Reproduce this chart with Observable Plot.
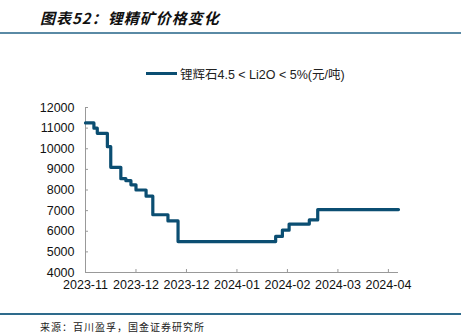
<!DOCTYPE html>
<html>
<head>
<meta charset="utf-8">
<script src="https://cdn.jsdelivr.net/npm/d3@7"></script>
<script src="https://cdn.jsdelivr.net/npm/@observablehq/plot@0.6"></script>
<style>
  html, body { margin: 0; padding: 0; background: #fff; }
  #wrap { position: relative; width: 468px; height: 334px; overflow: hidden; font-family: "Liberation Sans", Arial, sans-serif; }
  #title { position: absolute; left: 40px; top: 7px; font-family: "Noto Sans CJK SC", sans-serif; font-weight: bold; font-style: italic; font-size: 15px; color: #111; letter-spacing: 1px; }
  #rule1 { position: absolute; left: 0; top: 32px; width: 461px; height: 2px; background: #5a8aa5; }
  #legend { position: absolute; left: 146px; top: 64px; display: flex; align-items: center; font-size: 12.5px; color: #222; font-family: "Liberation Sans", "Noto Sans CJK SC", sans-serif; }
  #legend .sw { width: 31px; height: 3px; background: #0b4e72; margin-right: 3px; }
  #chart { position: absolute; left: 0; top: 90px; }
  #rule2 { position: absolute; left: 0; top: 313px; width: 461px; height: 2px; background: #2e6b8c; }
  #source { position: absolute; left: 40px; top: 319px; font-family: "Noto Sans CJK SC", sans-serif; font-size: 10px; color: #222; letter-spacing: 1px; }
</style>
</head>
<body>
<div id="wrap">
  <div id="title">图表52：锂精矿价格变化</div>
  <div id="rule1"></div>
  <div id="legend"><span class="sw"></span><span id="legendText"></span></div>
  <div id="chart"></div>
  <div id="rule2"></div>
  <div id="source">来源：百川盈孚，国金证券研究所</div>
</div>
<script>
// Price change points (step series), 元/吨
const seriesName = "锂辉石4.5 < Li2O < 5%(元/吨)";
const dates = ["2023-11-01","2023-11-06","2023-11-08","2023-11-14","2023-11-16","2023-11-22","2023-11-25","2023-11-28","2023-12-01","2023-12-07","2023-12-11","2023-12-20","2023-12-26","2024-02-22","2024-02-26","2024-03-01","2024-03-13","2024-03-18","2024-05-05"];
const prices = [11250,11000,10750,10100,9100,8550,8450,8250,8000,7700,6800,6500,5500,5750,6050,6350,6550,7050,7050];
const xTickDates = ["2023-11-01","2023-12-01","2023-12-31","2024-01-30","2024-02-29","2024-03-30","2024-04-29"];
const yTicks = [4000,5000,6000,7000,8000,9000,10000,11000,12000];

document.getElementById("legendText").textContent = seriesName;

const parse = d3.utcParse("%Y-%m-%d");
const data = dates.map((d, i) => ({date: parse(d), price: prices[i]}));
const xTicks = xTickDates.map(parse);

const chart = Plot.plot({
  width: 468,
  height: 220,
  marginLeft: 85,
  marginRight: 70,
  marginTop: 17,
  marginBottom: 38,
  style: {fontFamily: "'Liberation Sans', Arial, sans-serif", fontSize: "12.5px", color: "#111", background: "transparent"},
  x: {type: "utc", domain: [parse("2023-11-01"), parse("2024-05-05")]},
  y: {domain: [4000, 12000]},
  marks: [
    Plot.ruleY([4000], {x1: parse("2023-11-01"), x2: parse("2024-05-05"), stroke: "#999", strokeWidth: 1}),
    Plot.ruleX([parse("2023-11-01")], {y1: 4000, y2: 12000, stroke: "#999", strokeWidth: 1}),
    Plot.axisX({ticks: xTicks, tickFormat: d3.utcFormat("%Y-%m"), tickSize: -3, tickPadding: 11, stroke: "#999", label: null, fill: "#111", anchor: "bottom"}),
    Plot.axisY({ticks: yTicks, tickFormat: d => String(d), tickSize: -3, tickPadding: 14, stroke: "#999", label: null, fill: "#111", anchor: "left"}),
    Plot.line(data, {x: "date", y: "price", curve: "step-after", stroke: "#0b4e72", strokeWidth: 3.2, strokeLinejoin: "round"})
  ]
});
document.getElementById("chart").appendChild(chart);
</script>
</body>
</html>
